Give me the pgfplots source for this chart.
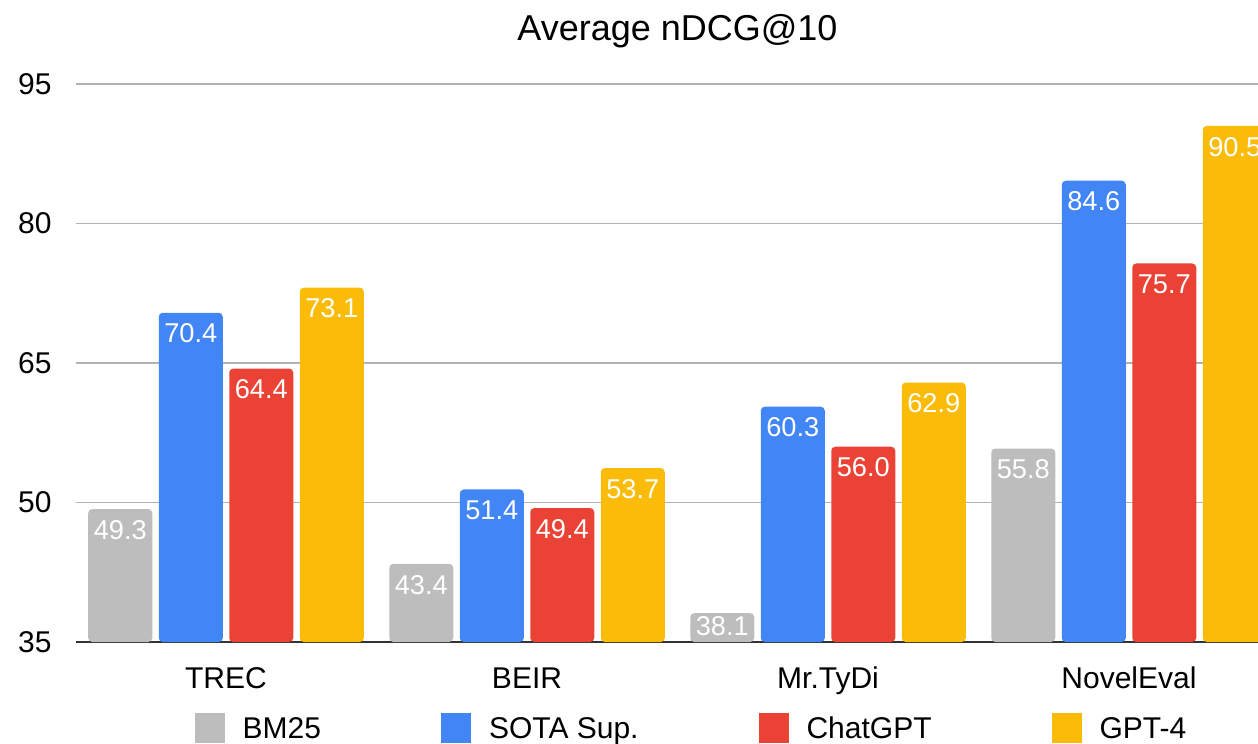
\documentclass[border=0pt]{standalone}
\usepackage{fontspec}
\setmainfont{Liberation Sans}
\usepackage{pgfplots}
\pgfplotsset{compat=1.18}
\definecolor{cgray}{RGB}{189,189,189}
\definecolor{cblue}{RGB}{66,133,244}
\definecolor{cred}{RGB}{234,67,53}
\definecolor{cyellow}{RGB}{250,188,9}
\definecolor{cgrid}{RGB}{178,178,178}
\pgfplotsset{
  sq/.style={legend image code/.code={\fill[##1,sharp corners] (0pt,-7.5pt) rectangle (15pt,7.5pt);}},
}
\begin{document}
\begin{tikzpicture}
\path[use as bounding box, clip] (0,0) rectangle (629pt,372pt);
\begin{axis}[
  at={(37.75pt,51pt)}, anchor=south west,
  width=602pt, height=279pt, scale only axis,
  ybar=3.25pt, bar width=32pt,
  xmin=-0.5, xmax=3.5, ymin=35, ymax=95,
  xtick={0,1,2,3}, xticklabels={TREC,BEIR,Mr.TyDi,NovelEval},
  ytick={35,50,65,80,95},
  ymajorgrids, major grid style={color=cgrid, line width=0.8pt},
  axis x line*=bottom, axis y line*=left,
  y axis line style={draw=none},
  x axis line style={draw=black!80, line width=0.6pt},
  major tick length=0pt, tick style={draw=none},
  /pgf/number format/assume math mode=true,
  tick label style={font=\fontsize{15}{18}\selectfont},
  xticklabel style={anchor=base, yshift=-23pt},
  yticklabel style={anchor=east, inner sep=0pt, xshift=-11.75pt},
  title={Average nDCG@10},
  title style={font=\fontsize{18}{21}\selectfont, anchor=base, yshift=15.5pt},
  every axis plot/.append style={visualization depends on={y \as \rawy}},
  nodes near coords={\pgfmathprintnumber[fixed,fixed zerofill,precision=1,assume math mode=true]{\pgfplotspointmeta}},
  every node near coord/.append style={font=\fontsize{13.6}{16}\selectfont, text=white, anchor=center, yshift={(\rawy<40)*4.15-10.4}},
  legend columns=4,
  legend style={at={(0.5108,-0.1541)}, anchor=center, draw=none, fill=none, inner sep=0pt,
    font=\fontsize{15}{18}\selectfont,
    nodes={inner sep=0pt, text height=10.74pt, text depth=0pt},
    /tikz/every odd column/.append style={column sep=9pt},
    /tikz/every even column/.append style={column sep=60pt}},
]
\addplot[fill=cgray, draw=none, rounded corners=2pt, sq] coordinates {(0,49.3) (1,43.4) (2,38.1) (3,55.8)};
\addplot[fill=cblue, draw=none, rounded corners=2pt, sq] coordinates {(0,70.4) (1,51.4) (2,60.3) (3,84.6)};
\addplot[fill=cred, draw=none, rounded corners=2pt, sq] coordinates {(0,64.4) (1,49.4) (2,56.0) (3,75.7)};
\addplot[fill=cyellow, draw=none, rounded corners=2pt, sq] coordinates {(0,73.1) (1,53.7) (2,62.9) (3,90.5)};
\legend{BM25,SOTA Sup.,ChatGPT,GPT-4}
\end{axis}
\end{tikzpicture}
\end{document}
